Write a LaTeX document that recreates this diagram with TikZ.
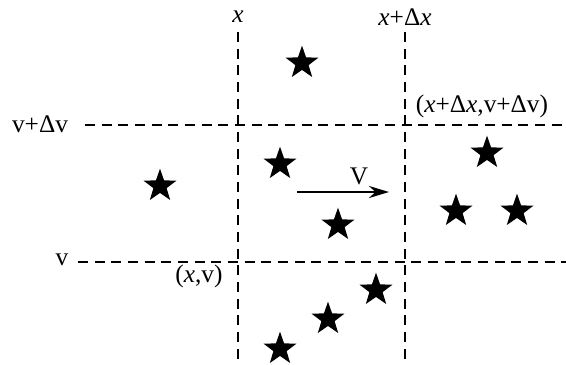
\documentclass[tikz,border=0pt]{standalone}
\usepackage{fontspec}
\setmainfont{Liberation Serif}
\usetikzlibrary{shapes.geometric,arrows.meta}
\begin{document}
\begin{tikzpicture}[
	x=0.75pt,y=-0.75pt,
	font=\fontsize{19}{22}\selectfont,
	grid/.style={line width=1.8pt,dash pattern=on 7.5pt off 5pt},
	particle/.style={star,star points=5,star point ratio=2.5,fill,inner sep=0pt,minimum size=26pt}
]
	\useasboundingbox (0,0) rectangle (566,364);

	\draw[grid] (238,32) -- (238,364);
	\draw[grid] (405,32) -- (405,364);
	\draw[grid] (85,125) -- (566,125);
	\draw[grid] (78,262) -- (566,262);

	\node at (238,17) (xl) {\textit{x}};
	\node at (405,17) (xr) {\textit{x}+Δ\textit{x}};
	\node at (40,124) (vt) {v+Δv};
	\node at (62,260) (vb) {v};
	\node at (482,106) (ctr) {(\textit{x}+Δ\textit{x},v+Δv)};
	\node at (199,276) (cbl) {(\textit{x},v)};

	\coordinate (vs) at (297,192);
	\coordinate (ve) at (389,192);
	\draw[line width=1.8pt,-{Stealth[length=15pt,width=9pt]}] (vs) -- node[above=1pt,xshift=12pt] (V) {V} (ve);

	\node[particle] at (302,63) (s1) {};
	\node[particle] at (160,186) (s2) {};
	\node[particle] at (280,164) (s3) {};
	\node[particle] at (338,225) (s4) {};
	\node[particle] at (487,153) (s5) {};
	\node[particle] at (456,211) (s6) {};
	\node[particle] at (517,211) (s7) {};
	\node[particle] at (376,290) (s8) {};
	\node[particle] at (328,319) (s9) {};
	\node[particle] at (280,349) (s10) {};

\end{tikzpicture}
\end{document}
